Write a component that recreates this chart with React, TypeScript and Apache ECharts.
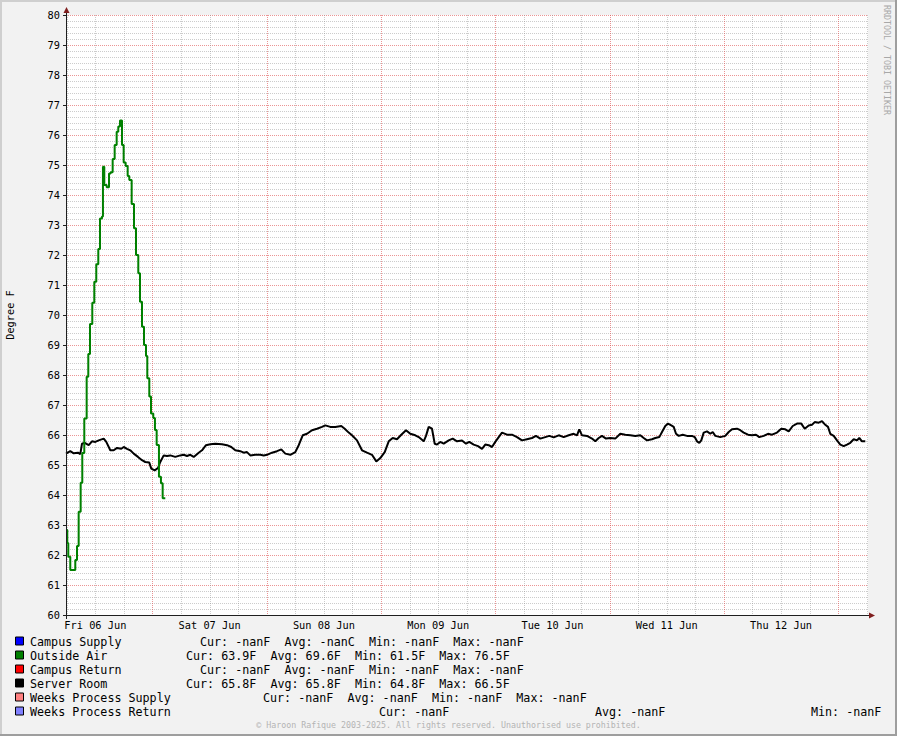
import React, { useEffect, useRef } from "react";
import * as echarts from "echarts";

// ---- Data (x in hours since Fri 06 Jun 00:00) ----
const xMinHour = 5.84;
const xMaxHour = 174.26;
const dayNoonHours = [12, 36, 60, 84, 108, 132, 156];
const dayLabels = ["Fri 06 Jun", "Sat 07 Jun", "Sun 08 Jun", "Mon 09 Jun", "Tue 10 Jun", "Wed 11 Jun", "Thu 12 Jun"];

const outsideAirHours = [
  5.84, 6.11, 6.32, 6.74, 7.79, 8.15, 8.5, 8.92, 9.26, 9.68, 10.18, 10.52, 10.88, 11.36, 11.78, 12.2, 12.62,
  12.98, 13.4, 13.6, 13.88, 14.38, 14.87, 15.22, 15.64, 16.06, 16.48, 16.82, 17.18, 17.6, 17.95, 18.37, 18.79,
  19.13, 19.63, 20.12, 20.54, 21.02, 21.38, 21.8, 22.22, 22.64, 22.91, 23.33, 23.69, 24.17, 24.52, 24.88, 25.36,
  25.78, 26.14, 26.69,
];
const outsideAirTemps = [
  62.83, 62.4, 61.94, 61.5, 61.83, 62.3, 63.44, 64.41, 65.4, 66.55, 67.94, 68.7, 69.7, 70.41, 71.11, 71.69, 72.2,
  73.22, 73.28, 74.94, 74.33, 74.26, 74.72, 74.76, 75.2, 75.67, 76.11, 76.28, 76.48, 75.67, 75.08, 74.97, 74.63,
  74.5, 73.7, 72.89, 72.0, 71.39, 70.44, 69.61, 69.0, 68.63, 67.89, 67.28, 66.72, 66.57, 66.17, 65.67, 64.61,
  64.39, 63.89, 63.89,
];

const serverRoomHours = [
  5.84, 6.74, 7.46, 8.36, 8.84, 9.2, 9.77, 10.61, 11.3, 11.99, 12.71, 13.76, 14.3, 15.14, 15.86, 16.55, 17.45,
  17.96, 18.65, 19.34, 20.06, 20.96, 21.8, 22.49, 23.33, 23.75, 24.47, 25.16, 25.64, 26.36, 27.05, 27.74, 28.79,
  29.84, 30.56, 31.25, 31.94, 32.66, 33.71, 34.4, 35.24, 36.14, 37.19, 38.6, 39.65, 40.55, 41.39, 42.44, 43.16,
  43.85, 44.54, 45.59, 46.64, 47.36, 48.05, 49.1, 50.15, 51.05, 51.89, 52.94, 53.99, 54.71, 55.55, 56.45, 57.5,
  58.55, 59.6, 60.29, 61.34, 62.39, 63.65, 64.37, 65.21, 65.9, 66.95, 68.0, 69.05, 70.1, 71.0, 71.84, 72.77,
  73.61, 74.45, 75.35, 76.25, 77.24, 78.14, 79.19, 79.91, 80.96, 81.44, 82.01, 82.7, 83.27, 83.75, 84.44, 85.16,
  86.21, 87.05, 87.95, 89.0, 89.84, 90.53, 91.46, 92.36, 93.2, 93.89, 94.61, 95.3, 95.99, 96.71, 97.4, 98.45,
  99.5, 100.55, 101.6, 102.65, 103.7, 104.54, 105.44, 106.49, 107.33, 108.26, 109.31, 110.36, 111.41, 112.46,
  113.15, 113.63, 114.2, 115.25, 116.3, 116.99, 117.71, 118.4, 119.24, 120.14, 121.19, 122.24, 123.29, 124.34,
  125.39, 126.44, 127.16, 127.85, 128.9, 129.59, 130.43, 131.0, 131.69, 132.26, 132.95, 133.46, 133.94, 134.51,
  135.35, 136.25, 137.3, 137.87, 138.35, 138.83, 139.25, 139.76, 140.45, 141.14, 141.65, 142.19, 143.24, 144.29,
  145.01, 145.7, 146.75, 147.44, 148.16, 149.06, 149.9, 150.74, 151.43, 152.36, 153.26, 154.1, 155.15, 156.05,
  156.89, 157.61, 158.45, 159.35, 160.25, 160.97, 161.81, 162.5, 163.07, 163.91, 164.6, 165.29, 165.86, 166.34,
  167.06, 167.75, 168.44, 169.16, 169.85, 170.54, 171.26, 171.95, 172.43, 173.0, 173.69,
];
const serverRoomTemps = [
  65.38, 65.46, 65.39, 65.41, 65.36, 65.71, 65.74, 65.66, 65.79, 65.77, 65.82, 65.88, 65.77, 65.49, 65.49, 65.57,
  65.54, 65.6, 65.54, 65.49, 65.38, 65.27, 65.16, 65.1, 65.08, 64.88, 64.82, 64.9, 65.1, 65.32, 65.3, 65.32,
  65.27, 65.32, 65.34, 65.3, 65.34, 65.27, 65.41, 65.49, 65.66, 65.69, 65.71, 65.69, 65.66, 65.6, 65.49, 65.46,
  65.41, 65.43, 65.32, 65.34, 65.34, 65.32, 65.34, 65.41, 65.46, 65.52, 65.38, 65.34, 65.43, 65.66, 65.99, 66.04,
  66.16, 66.21, 66.27, 66.32, 66.27, 66.27, 66.3, 66.21, 66.08, 65.99, 65.82, 65.49, 65.41, 65.34, 65.12, 65.23,
  65.43, 65.79, 65.9, 65.86, 66.01, 66.16, 66.04, 65.99, 65.93, 65.79, 65.97, 66.27, 66.21, 65.71, 65.68, 65.77,
  65.71, 65.82, 65.88, 65.79, 65.82, 65.71, 65.77, 65.68, 65.63, 65.54, 65.68, 65.66, 65.6, 65.77, 65.93, 66.08,
  66.01, 66.01, 65.93, 65.82, 65.86, 65.9, 65.97, 65.88, 65.93, 65.97, 65.92, 65.99, 65.93, 65.99, 66.04, 65.99,
  66.19, 65.99, 65.97, 65.88, 65.79, 65.9, 65.97, 65.88, 65.9, 65.88, 66.04, 66.01, 65.99, 65.97, 65.99, 65.9,
  65.82, 65.86, 65.9, 65.93, 66.1, 66.3, 66.38, 66.32, 66.27, 66.04, 65.97, 66.01, 65.97, 65.97, 65.93, 65.79,
  65.74, 65.82, 66.08, 66.12, 66.04, 66.1, 65.97, 65.93, 65.97, 66.1, 66.19, 66.21, 66.16, 66.08, 66.01, 65.99,
  66.01, 65.93, 65.97, 66.04, 66.01, 66.08, 66.21, 66.19, 66.12, 66.3, 66.38, 66.38, 66.21, 66.32, 66.34, 66.43,
  66.41, 66.46, 66.34, 66.27, 66.04, 65.97, 65.82, 65.68, 65.63, 65.68, 65.74, 65.86, 65.82, 65.9, 65.79, 65.79,
];

const legendNames = ["Campus Supply", "Outside Air", "Campus Return", "Server Room", "Weeks Process Supply", "Weeks Process Return"];
const legendColors = ["#0000FF", "#008000", "#FF0000", "#000000", "#FF8080", "#8080FF"];
const legendStats = [
  ["Cur: -nanF  Avg: -nanC  Min: -nanF  Max: -nanF"],
  ["Cur: 63.9F  Avg: 69.6F  Min: 61.5F  Max: 76.5F"],
  ["Cur: -nanF  Avg: -nanF  Min: -nanF  Max: -nanF"],
  ["Cur: 65.8F  Avg: 65.8F  Min: 64.8F  Max: 66.5F"],
  ["Cur: -nanF  Avg: -nanF  Min: -nanF  Max: -nanF"],
  ["Cur: -nanF", "Avg: -nanF", "Min: -nanF"],
];
const yAxisTitle = "Degree F";
const sideText = "RRDTOOL / TOBI OETIKER";
const footerText = "© Haroon Rafique 2003-2025. All rights reserved. Unauthorised use prohibited.";

// ---- Layout ----
const W = 897;
const H = 736;
const GRID = { left: 66, top: 15, width: 802, height: 600 };
const statsX = [[200], [186], [200], [186], [263], [379, 595, 811]];
const MONO = "'DejaVu Sans Mono', 'Liberation Mono', monospace";
const MINOR_COLOR = "rgba(143,143,143,0.45)";
const MAJOR_COLOR = "rgba(222,79,79,0.6)";

export default function App() {
  const ref = useRef<HTMLDivElement>(null);

  useEffect(() => {
    document.body.style.margin = "0";
    if (!ref.current) return;
    const chart = echarts.init(ref.current, null, { renderer: "svg" });

    // vertical grid every 6 h, major (red) at midnight
    const gridData: number[][] = [];
    for (let h = 6; h < xMaxHour; h += 6) gridData.push([h, 60]);

    const greenData = outsideAirHours.map((h, i) => [h, outsideAirTemps[i]]);
    const blackData = serverRoomHours.map((h, i) => [h, serverRoomTemps[i]]);

    const graphics: any[] = [];
    // frame
    graphics.push({ type: "rect", shape: { x: 0, y: 0, width: W, height: 2 }, style: { fill: "#CFCFCF" }, silent: true });
    graphics.push({ type: "rect", shape: { x: 0, y: 0, width: 2, height: H }, style: { fill: "#CFCFCF" }, silent: true });
    graphics.push({ type: "rect", shape: { x: W - 2, y: 0, width: 2, height: H }, style: { fill: "#9E9E9E" }, silent: true });
    graphics.push({ type: "rect", shape: { x: 0, y: H - 2, width: W, height: 2 }, style: { fill: "#9E9E9E" }, silent: true });
    // axis lines and arrows
    graphics.push({ type: "line", shape: { x1: 66.5, y1: 10, x2: 66.5, y2: 619 }, style: { stroke: "#1F1F1F", lineWidth: 1 }, z: 10 });
    graphics.push({ type: "line", shape: { x1: 63, y1: 615.5, x2: 870, y2: 615.5 }, style: { stroke: "#1F1F1F", lineWidth: 1 }, z: 10 });
    graphics.push({ type: "polygon", shape: { points: [[63.5, 13], [69.5, 13], [66.5, 7]] }, style: { fill: "#801F1F" }, z: 11 });
    graphics.push({ type: "polygon", shape: { points: [[869, 612.5], [869, 618.5], [875, 615.5]] }, style: { fill: "#801F1F" }, z: 11 });
    // side watermark
    graphics.push({
      type: "text", x: 887, y: 5, rotation: -Math.PI / 2,
      style: { text: sideText, font: `8.3px ${MONO}`, fill: "#A8A8A8", align: "left", verticalAlign: "middle" },
    });
    // footer
    graphics.push({
      type: "text", x: 448.5, y: 725,
      style: { text: footerText, font: `8.3px ${MONO}`, fill: "#B4B4B4", align: "center", verticalAlign: "middle" },
    });
    // legend
    legendNames.forEach((name, i) => {
      const y = 641.5 + i * 14;
      graphics.push({
        type: "rect", shape: { x: 15.5, y: y - 4.5, width: 8, height: 8 },
        style: { fill: legendColors[i], stroke: "#000", lineWidth: 1 },
      });
      graphics.push({
        type: "text", x: 30, y,
        style: { text: name, font: `11.7px ${MONO}`, fill: "#000", align: "left", verticalAlign: "middle" },
      });
      legendStats[i].forEach((s, j) => {
        graphics.push({
          type: "text", x: statsX[i][j], y,
          style: { text: s, font: `11.7px ${MONO}`, fill: "#000", align: "left", verticalAlign: "middle" },
        });
      });
    });

    const option: any = {
      animation: false,
      backgroundColor: "#F2F2F2",
      grid: {
        ...GRID,
        show: true,
        backgroundColor: "#FFFFFF",
        borderWidth: 0,
        containLabel: false,
        outerBoundsMode: "none",
      },
      xAxis: {
        type: "value",
        min: xMinHour,
        max: xMaxHour,
        axisLine: { show: false },
        axisTick: { show: false },
        splitLine: { show: false },
        axisLabel: {
          customValues: dayNoonHours,
          formatter: (v: number) => dayLabels[Math.round((v - 12) / 24)] ?? "",
          fontFamily: MONO,
          fontSize: 10.3,
          color: "#000",
          margin: 5,
        },
      },
      yAxis: {
        type: "value",
        min: 60,
        max: 80,
        interval: 1,
        name: yAxisTitle,
        nameLocation: "middle",
        nameGap: 51,
        nameRotate: 90,
        nameTextStyle: { fontFamily: MONO, fontSize: 10.3, color: "#000" },
        axisLine: { show: false },
        axisTick: { show: true, length: 3, lineStyle: { color: "#1F1F1F" } },
        axisLabel: { fontFamily: MONO, fontSize: 10.3, color: "#000", margin: 6 },
        splitLine: { show: true, lineStyle: { color: MAJOR_COLOR, type: [1, 1], width: 1 } },
        minorTick: { show: false, splitNumber: 5 },
        minorSplitLine: { show: true, lineStyle: { color: MINOR_COLOR, type: [1, 1], width: 1 } },
      },
      graphic: graphics,
      series: [
        {
          type: "custom",
          name: "vgrid",
          silent: true,
          z: 1,
          data: gridData,
          renderItem: (_params: any, api: any) => {
            const h = api.value(0);
            const bottom = api.coord([h, 60]);
            const top = api.coord([h, 80]);
            const x = Math.round(bottom[0]) + 0.5;
            const major = h % 24 === 0;
            return {
              type: "line",
              shape: { x1: x, y1: top[1], x2: x, y2: bottom[1] },
              style: { stroke: major ? MAJOR_COLOR : MINOR_COLOR, lineWidth: 1, lineDash: [1, 1] },
            };
          },
        },
        {
          type: "line",
          name: "Server Room",
          data: blackData,
          showSymbol: false,
          lineStyle: { color: "#000000", width: 2 },
          z: 3,
        },
        {
          type: "line",
          name: "Outside Air",
          data: greenData,
          step: "end",
          showSymbol: false,
          lineStyle: { color: "#008000", width: 2 },
          z: 4,
        },
      ],
    };
    chart.setOption(option);
    return () => chart.dispose();
  }, []);

  return <div ref={ref} style={{ width: W, height: H }} />;
}
